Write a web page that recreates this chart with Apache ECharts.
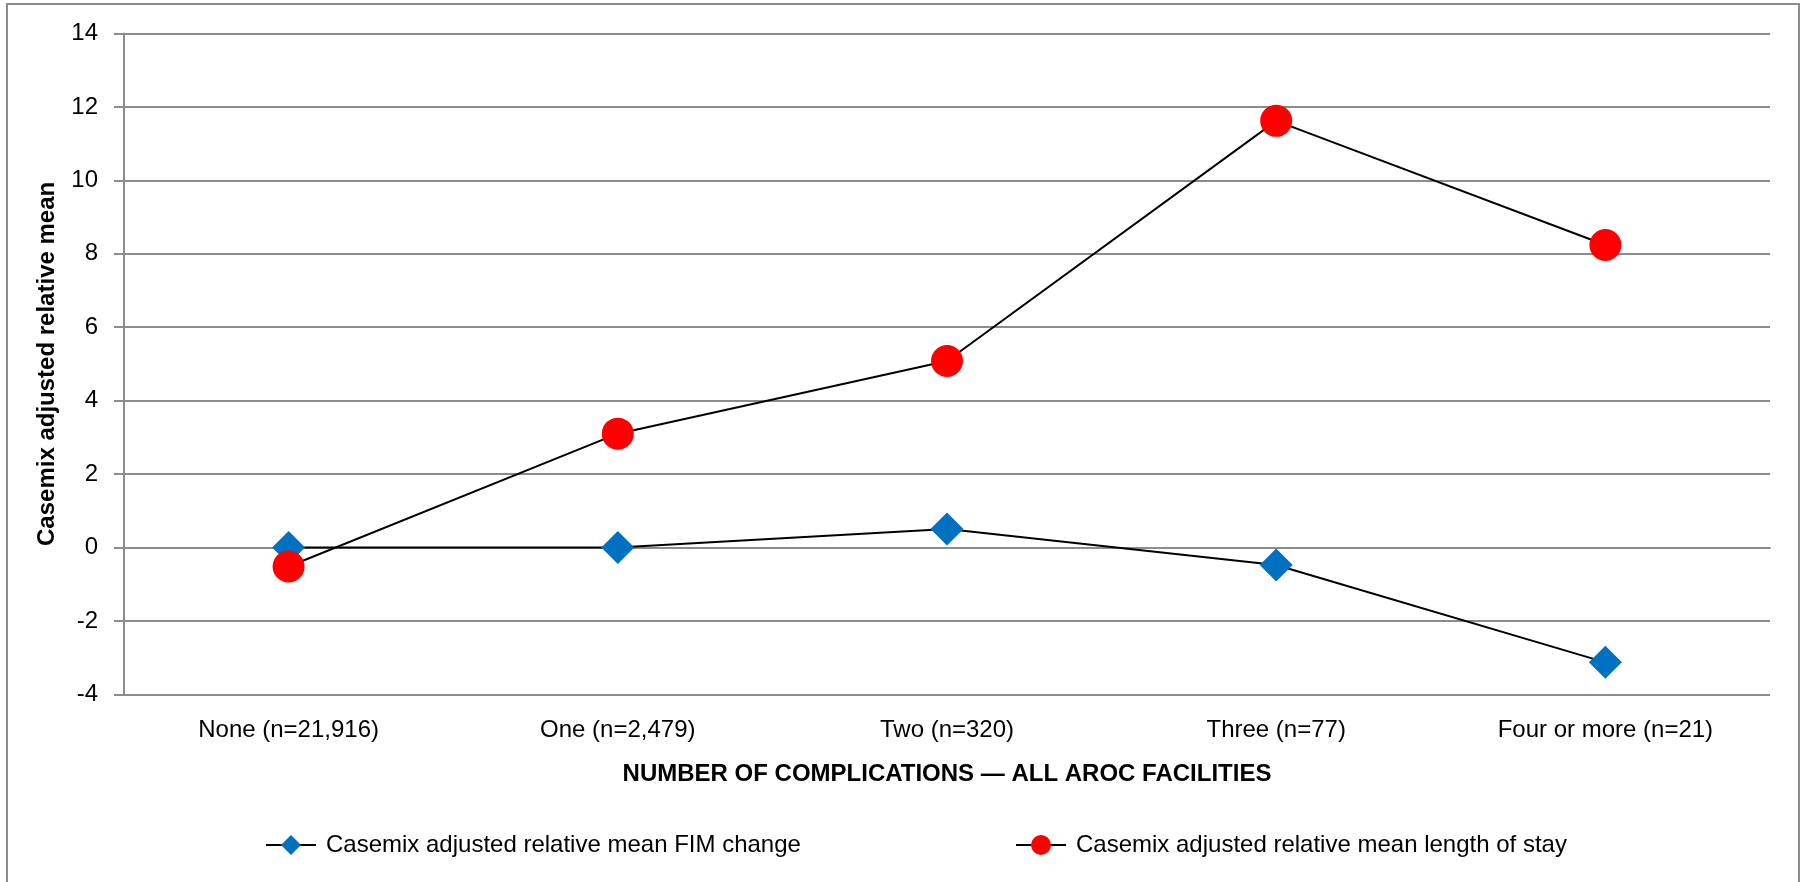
<!DOCTYPE html>
<html>
<head>
<meta charset="utf-8">
<script src="https://cdn.jsdelivr.net/npm/echarts@6/dist/echarts.min.js"></script>
<style>
html,body{margin:0;padding:0;background:#fff;}
#chart{width:1805px;height:882px;}
</style>
</head>
<body>
<div id="chart"></div>
<script>
const categories = ['None (n=21,916)', 'One (n=2,479)', 'Two (n=320)', 'Three (n=77)', 'Four or more (n=21)'];
const fimChange = [0, 0, 0.5, -0.48, -3.13];
const lengthOfStay = [-0.52, 3.1, 5.08, 11.62, 8.24];
const seriesNames = ['Casemix adjusted relative mean FIM change', 'Casemix adjusted relative mean length of stay'];
const yAxisTitle = 'Casemix adjusted relative mean';
const xAxisTitle = 'NUMBER OF COMPLICATIONS \u2014 ALL AROC FACILITIES';

const FONT = "'Liberation Sans Narrow', 'Arial Narrow', 'Liberation Sans', Arial, sans-serif";
const GRID = '#8c8c8c';
const FS = 24;

const chart = echarts.init(document.getElementById('chart'), null, {renderer: 'canvas'});
chart.setOption({
  animation: false,
  backgroundColor: '#ffffff',
  textStyle: {fontFamily: FONT, color: '#000'},
  graphic: [{
    type: 'rect',
    shape: {x: 7, y: 4, width: 1792, height: 900},
    style: {fill: null, stroke: '#8c8c8c', lineWidth: 2},
    silent: true
  }],
  grid: {left: 124, right: 35, top: 33.5, bottom: 187.7},
  legend: [{
    data: [seriesNames[0]],
    left: 260, top: 828,
    itemWidth: 50, itemHeight: 25,
    textStyle: {fontFamily: FONT, fontSize: FS, color: '#000', padding: [0, 0, 0, 5]}
  }, {
    data: [seriesNames[1]],
    left: 1010, top: 828,
    itemWidth: 50, itemHeight: 25,
    textStyle: {fontFamily: FONT, fontSize: FS, color: '#000', padding: [0, 0, 0, 5]}
  }],
  xAxis: {
    type: 'category',
    data: categories,
    boundaryGap: true,
    name: xAxisTitle,
    nameLocation: 'middle',
    nameGap: 68,
    nameTextStyle: {fontFamily: FONT, fontSize: FS, fontWeight: 'bold', color: '#000'},
    axisLine: {show: true, lineStyle: {color: GRID, width: 2}},
    axisTick: {show: false},
    axisLabel: {fontFamily: FONT, fontSize: FS, color: '#000', margin: 24},
    splitLine: {show: false}
  },
  yAxis: {
    type: 'value',
    min: -4, max: 14, interval: 2,
    name: yAxisTitle,
    nameLocation: 'middle',
    nameGap: 65,
    nameTextStyle: {fontFamily: FONT, fontSize: FS, fontWeight: 'bold', color: '#000'},
    axisLine: {show: true, lineStyle: {color: GRID, width: 2}},
    axisTick: {show: true, length: 10, lineStyle: {color: GRID, width: 2}},
    axisLabel: {fontFamily: FONT, fontSize: FS, color: '#000', margin: 26},
    splitLine: {show: true, lineStyle: {color: GRID, width: 2}}
  },
  series: [{
    name: seriesNames[0],
    type: 'line',
    data: fimChange,
    symbol: 'diamond',
    symbolSize: 33,
    itemStyle: {color: '#0070C0'},
    lineStyle: {color: '#000', width: 2},
    z: 2
  }, {
    name: seriesNames[1],
    type: 'line',
    data: lengthOfStay,
    symbol: 'circle',
    symbolSize: 32,
    itemStyle: {color: '#FF0000'},
    lineStyle: {color: '#000', width: 2},
    z: 3
  }]
});
</script>
</body>
</html>
